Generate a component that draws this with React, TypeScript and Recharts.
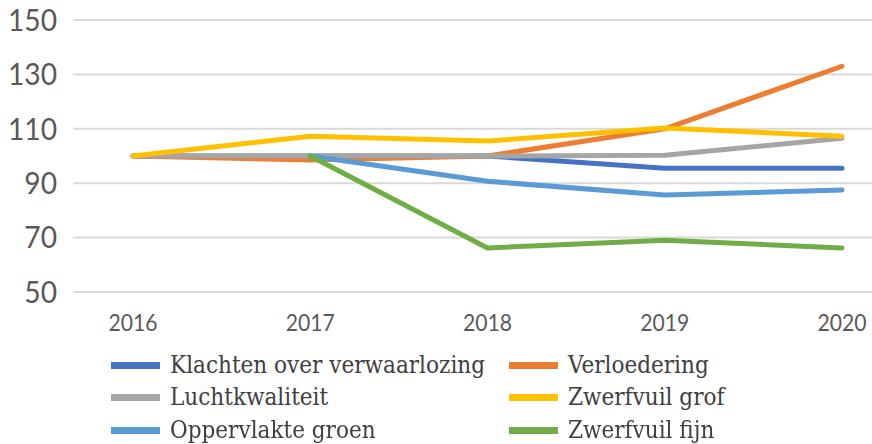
import React from "react";
import { LineChart, Line, XAxis, YAxis, CartesianGrid } from "recharts";

const years = ["2016", "2017", "2018", "2019", "2020"];
const klachten = [100, 100, 100, 95.5, 95.5];
const verloedering = [100, 98.5, 100, 110, 133];
const luchtkwaliteit = [100, 100, 100, 100.3, 106.5];
const zwerfvuilGrof = [100, 107.3, 105.5, 110.3, 107.3];
const oppervlakteGroen = [null, 100, 90.7, 85.7, 87.5];
const zwerfvuilFijn = [null, 100, 66.2, 69, 66.2];
const yTicks = [50, 70, 90, 110, 130, 150];

const series = [
  { key: "k", name: "Klachten over verwaarlozing", values: klachten, color: "#4472C4" },
  { key: "v", name: "Verloedering", values: verloedering, color: "#ED7D31" },
  { key: "l", name: "Luchtkwaliteit", values: luchtkwaliteit, color: "#A5A5A5" },
  { key: "g", name: "Zwerfvuil grof", values: zwerfvuilGrof, color: "#FFC000" },
  { key: "o", name: "Oppervlakte groen", values: oppervlakteGroen, color: "#5B9BD5" },
  { key: "f", name: "Zwerfvuil fijn", values: zwerfvuilFijn, color: "#70AD47" },
];

const data = years.map((y, i) => {
  const row: any = { year: y };
  series.forEach((s) => (row[s.key] = s.values[i]));
  return row;
});

const YTick = (props: any) => {
  const { x, y, payload } = props;
  return (
    <text
      x={x}
      y={y}
      dy="0.36em"
      textAnchor="end"
      fill="#595959"
      fontFamily="Lato"
      fontSize={30}
      transform={`translate(${x},0) scale(0.94,1) translate(${-x},0)`}
    >
      {payload.value}
    </text>
  );
};

const XTick = (props: any) => {
  const { x, y, payload } = props;
  return (
    <text
      x={x}
      y={y + 39}
      textAnchor="middle"
      fill="#595959"
      fontFamily="Lato"
      fontSize={23}
      transform={`translate(${x},0) scale(0.92,1) translate(${-x},0)`}
    >
      {payload.value}
    </text>
  );
};

const legendCols = [111, 509];
const legendRows = [365, 397, 430];

export default function App() {
  return (
    <div style={{ position: "fixed", left: 0, top: 0, width: 872, height: 444, background: "#fff" }}>
      <LineChart width={872} height={444} data={data} margin={{ top: 20, right: 0, left: 0, bottom: 0 }}>
        <CartesianGrid horizontal vertical={false} stroke="#D9D9D9" strokeWidth={2} />
        <XAxis
          dataKey="year"
          type="category"
          padding={{ left: 60, right: 30 }}
          axisLine={false}
          tickLine={false}
          tickSize={0}
          tickMargin={0}
          height={152}
          tick={<XTick />}
          interval={0}
        />
        <YAxis
          domain={[50, 150]}
          ticks={yTicks}
          width={73}
          axisLine={false}
          tickLine={false}
          tickSize={0}
          tickMargin={16}
          tick={<YTick />}
          interval={0}
        />
        {series.map((s) => (
          <Line
            key={s.key}
            dataKey={s.key}
            name={s.name}
            stroke={s.color}
            strokeWidth={5}
            strokeLinecap="round"
            strokeLinejoin="round"
            dot={false}
            activeDot={false}
            isAnimationActive={false}
            connectNulls={false}
          />
        ))}
      </LineChart>
      {series.map((s, i) => {
        const col = legendCols[i % 2];
        const row = legendRows[Math.floor(i / 2)];
        return (
          <div key={s.key} style={{ position: "absolute", left: col, top: row - 15, height: 30, display: "flex", alignItems: "center" }}>
            <div style={{ width: 49, height: 7, background: s.color }} />
            <div
              style={{
                marginLeft: 10,
                fontFamily: "'DejaVu Serif Condensed', 'DejaVu Serif', serif",
                fontStretch: "condensed",
                fontSize: 24,
                color: "#404040",
                whiteSpace: "nowrap",
                lineHeight: "30px",
              }}
            >
              {s.name}
            </div>
          </div>
        );
      })}
    </div>
  );
}
